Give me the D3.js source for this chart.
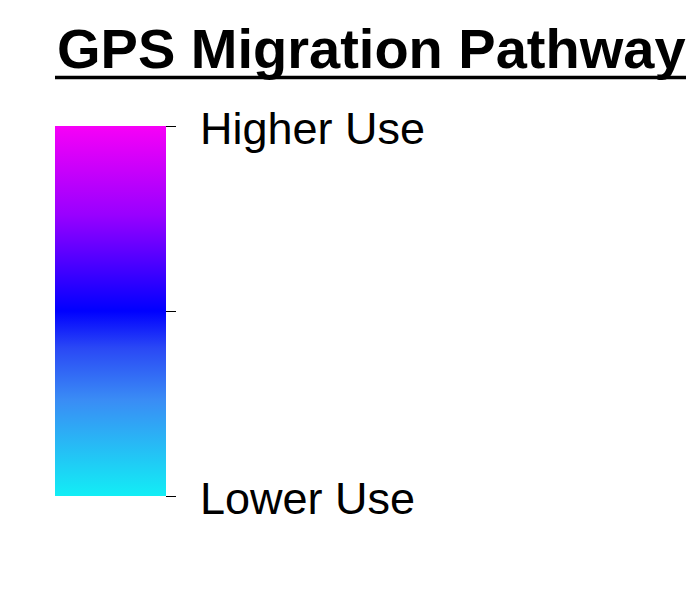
<!DOCTYPE html>
<html>
<head>
  <title>GPS Migration Pathway</title>
  <style>
    body {
      margin: 0;
      font-family: Arial, "Liberation Sans", sans-serif;
      background: #fff;
    }
  </style>
</head>
<body>
  <svg id="chart"></svg>

  <script src="https://d3js.org/d3.v7.min.js"></script>
  <script>
    // colour bar data
    const title = "GPS Migration Pathway";
    const stopOffsets = [0, 0.26, 0.4, 0.5, 0.76, 1];
    const stopColors = ["#12eef5", "#3a8cf5", "#2a48f5", "#0000ff", "#9900ff", "#f700f7"];
    const tickValues = [0, 0.5, 1];
    const tickLabels = ["Lower Use", "", "Higher Use"];

    const chart = () => {
      const width = 686;
      const height = 599;

      const svg = d3.select("#chart")
        .attr("width", width)
        .attr("height", height);

      // title, underlined
      const titleText = svg.append("text")
        .attr("x", 57)
        .attr("y", 68)
        .attr("font-size", 56)
        .attr("font-weight", "bold")
        .attr("fill", "#000")
        .text(title);

      const bb = titleText.node().getBBox();
      svg.append("line")
        .attr("x1", bb.x - 2)
        .attr("x2", bb.x + bb.width + 2)
        .attr("y1", 77.5)
        .attr("y2", 77.5)
        .attr("stroke", "#000")
        .attr("stroke-width", 3.5);

      const bar = { x: 55, w: 111, top: 126, bottom: 496 };

      const y = d3.scaleLinear()
        .domain([0, 1])
        .range([bar.bottom, bar.top]);

      const grad = svg.append("defs")
        .append("linearGradient")
        .attr("id", "useGrad")
        .attr("x1", 0).attr("y1", 1)
        .attr("x2", 0).attr("y2", 0);

      grad.selectAll("stop")
        .data(stopOffsets)
        .join("stop")
        .attr("offset", d => d)
        .attr("stop-color", (d, i) => stopColors[i]);

      svg.append("rect")
        .attr("x", bar.x)
        .attr("y", bar.top)
        .attr("width", bar.w)
        .attr("height", bar.bottom - bar.top)
        .attr("fill", "url(#useGrad)");

      const axis = d3.axisRight(y)
        .tickValues(tickValues)
        .tickSize(10)
        .tickPadding(24)
        .tickFormat((d, i) => tickLabels[i]);

      const g = svg.append("g")
        .attr("transform", `translate(${bar.x + bar.w},0)`)
        .call(axis);

      g.select(".domain").remove();
      g.selectAll(".tick line").attr("stroke", "#000");
      g.selectAll(".tick text")
        .attr("font-family", "Arial, 'Liberation Sans', sans-serif")
        .attr("font-size", 45)
        .attr("dy", "0.38em")
        .attr("fill", "#000");
    };

    chart();
  </script>
</body>
</html>
